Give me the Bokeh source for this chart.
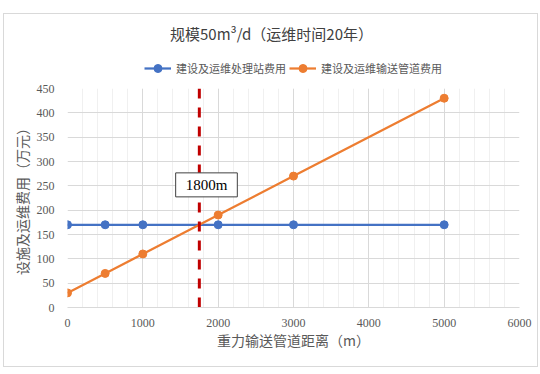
from bokeh.plotting import figure
from bokeh.layouts import column
from bokeh.models import Range1d, FixedTicker, Label, Legend, LegendItem
from bokeh.embed import file_html
from bokeh.resources import INLINE

# ---- data ----
distance = [0, 500, 1000, 2000, 3000, 5000]
station_cost = [170, 170, 170, 170, 170, 170]
pipe_cost = [30, 70, 110, 190, 270, 430]
series_names = ["建设及运维处理站费用", "建设及运维输送管道费用"]
x_ticks = [0, 1000, 2000, 3000, 4000, 5000, 6000]
x_minor_ticks = list(range(0, 6001, 200))
y_ticks = [0, 50, 100, 150, 200, 250, 300, 350, 400, 450]
title_text = "规模50m³/d（运维时间20年）"
x_label = "重力输送管道距离（m）"
y_label = "设施及运维费用（万元）"
breakeven_text = "1800m"

# break-even distance from the data (where the two series cross)
breakeven = None
for i in range(len(distance) - 1):
    d0 = pipe_cost[i] - station_cost[i]
    d1 = pipe_cost[i + 1] - station_cost[i + 1]
    if d0 <= 0 <= d1:
        t = -d0 / (d1 - d0)
        breakeven = distance[i] + t * (distance[i + 1] - distance[i])
        break

BLUE = "#4472C4"
ORANGE = "#ED7D31"
GRAY_TXT = "#595959"
CJK = "Noto Sans CJK SC"
SERIF = "Liberation Serif"
W = 533
LEFT, RIGHT = 63, 18
FRAME_W = W - LEFT - RIGHT

# ---------------- main chart ----------------
p = figure(width=W, height=286, output_backend="svg", toolbar_location=None,
           x_range=Range1d(x_ticks[0], x_ticks[-1]), y_range=Range1d(y_ticks[0], y_ticks[-1]),
           title=None, min_border_left=LEFT, min_border_right=RIGHT, min_border_top=8,
           min_border_bottom=59)
p.outline_line_color = None
p.background_fill_color = "white"
p.border_fill_color = "white"

p.xaxis.ticker = FixedTicker(ticks=x_ticks, minor_ticks=x_minor_ticks)
p.yaxis.ticker = FixedTicker(ticks=y_ticks)
p.xgrid.grid_line_color = "#d9d9d9"
p.xgrid.minor_grid_line_color = "#f0f0f0"
p.ygrid.grid_line_color = "#d9d9d9"

p.xaxis.major_tick_line_color = None
p.yaxis.major_tick_line_color = None
p.xaxis.minor_tick_line_color = None
p.yaxis.minor_tick_line_color = None
p.xaxis.major_label_text_font = SERIF
p.yaxis.major_label_text_font = SERIF
p.xaxis.major_label_text_font_size = "12px"
p.yaxis.major_label_text_font_size = "12px"
p.xaxis.major_label_text_color = GRAY_TXT
p.yaxis.major_label_text_color = GRAY_TXT
p.xaxis.axis_label_text_font = CJK
p.yaxis.axis_label_text_font = CJK
p.xaxis.axis_label_text_font_size = "14px"
p.yaxis.axis_label_text_font_size = "14px"
p.xaxis.axis_label_text_font_style = "normal"
p.yaxis.axis_label_text_font_style = "normal"
p.xaxis.axis_label_text_color = GRAY_TXT
p.yaxis.axis_label_text_color = GRAY_TXT
p.xaxis.axis_line_color = "#d9d9d9"
p.yaxis.axis_line_color = None
p.xaxis.major_label_standoff = 5
p.yaxis.major_label_standoff = 7
p.xaxis.axis_label = x_label
p.yaxis.axis_label = y_label
p.xaxis.axis_label_standoff = 0
p.yaxis.axis_label_standoff = 2

l1 = p.line(distance, station_cost, line_color=BLUE, line_width=2.25)
s1 = p.scatter(distance, station_cost, size=8, fill_color=BLUE, line_color=BLUE)
l2 = p.line(distance, pipe_cost, line_color=ORANGE, line_width=2.25)
s2 = p.scatter(distance, pipe_cost, size=8, fill_color=ORANGE, line_color=ORANGE)

# break-even line
p.segment(x0=[breakeven], y0=[y_ticks[0]], x1=[breakeven], y1=[y_ticks[-1]],
          line_color="#C00000", line_width=3, line_dash="10 9")

# annotation box
p.add_layout(Label(x=1845, y=252, text=breakeven_text, text_align="center",
                   text_baseline="middle", text_font=SERIF, text_font_size="15px",
                   text_color="black", background_fill_color="white",
                   border_line_color="#404040", border_line_width=1, padding=(10, 4)))

# ---------------- header: title + legend ----------------
# (its frame is aligned with the main chart's frame by the column layout; units are pixels)
top = figure(width=W, height=66, output_backend="svg", toolbar_location=None,
             x_range=Range1d(0, FRAME_W), y_range=Range1d(0, 66), title=None,
             x_axis_type=None, y_axis_type=None,
             min_border_left=LEFT, min_border_right=RIGHT, min_border_top=0, min_border_bottom=0)
top.outline_line_color = None
top.background_fill_color = "white"
top.border_fill_color = "white"
top.grid.visible = False

top.add_layout(Label(x=204, y=47, text=title_text, text_align="center",
                     text_baseline="middle", text_font=CJK, text_font_size="15px",
                     text_color="#404040"))

# legend glyph proxies (one undrawn NaN point each) styled like the series
nan = float("nan")
kl1 = top.line([nan], [nan], line_color=BLUE, line_width=2.25)
ks1 = top.scatter([nan], [nan], size=8, fill_color=BLUE, line_color=BLUE)
kl2 = top.line([nan], [nan], line_color=ORANGE, line_width=2.25)
ks2 = top.scatter([nan], [nan], size=8, fill_color=ORANGE, line_color=ORANGE)
legend = Legend(items=[LegendItem(label=series_names[0], renderers=[kl1, ks1]),
                       LegendItem(label=series_names[1], renderers=[kl2, ks2])],
                orientation="horizontal", location=(77, 2),
                border_line_color=None, background_fill_alpha=0,
                label_text_font=CJK, label_text_font_size="11px", label_text_color=GRAY_TXT,
                glyph_width=27, glyph_height=20, label_height=14, label_standoff=5,
                spacing=3, padding=0, margin=0)
top.add_layout(legend, "center")

layout = column(top, p, spacing=0,
                styles={"margin-left": "3px", "margin-top": "13px",
                        "border": "1px solid #d9d9d9", "background": "white"})

open("out.html", "w").write(file_html(layout, INLINE))
